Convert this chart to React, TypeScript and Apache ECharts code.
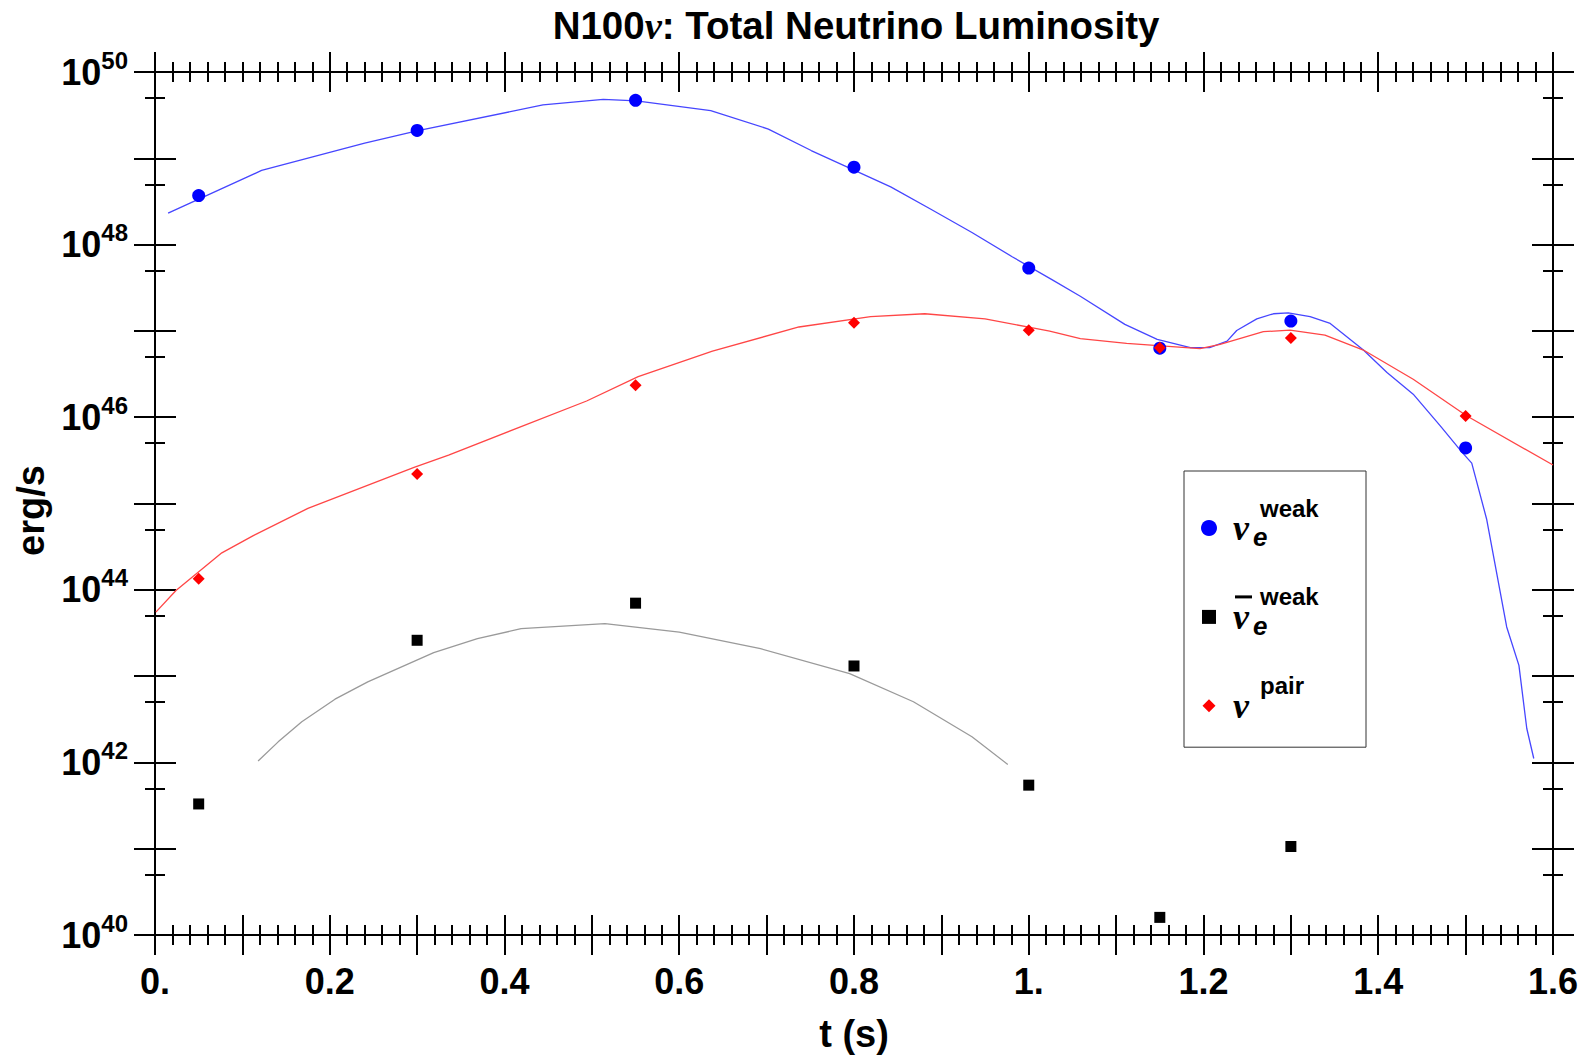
import React, { useEffect, useRef } from "react";
import * as echarts from "echarts";

const FONT = "'Liberation Sans', Arial, Helvetica, sans-serif";
const SERIF = "'Liberation Serif', 'Times New Roman', serif";

// sampled times (s)
const pointTimes = [0.05, 0.3, 0.55, 0.8, 1.0, 1.15, 1.3, 1.5];
const antiTimes = [0.05, 0.3, 0.55, 0.8, 1.0, 1.15, 1.3];
// luminosities (erg/s)
const nueWeakPoints = [3.7e48, 2.1e49, 4.7e49, 7.9e48, 5.35e47, 6.3e46, 1.3e47, 4.4e45];
const pairPoints = [1.34e44, 2.19e45, 2.34e46, 1.245e47, 1.02e47, 6.4e46, 8.3e46, 1.035e46];
const antiNueWeakPoints = [3.3e41, 2.6e43, 7.0e43, 1.31e43, 5.45e41, 1.6e40, 1.06e41];

// continuous curves
const blueCurveT = [0.015, 0.122, 0.24, 0.301, 0.444, 0.513, 0.551, 0.636, 0.702, 0.751, 0.795, 0.842, 0.888, 0.935, 0.981, 1.027, 1.059, 1.11, 1.147, 1.185, 1.207, 1.227, 1.238, 1.261, 1.28, 1.297, 1.322, 1.345, 1.383, 1.41, 1.44, 1.471, 1.496, 1.507, 1.524, 1.547, 1.561, 1.57, 1.578];
const blueCurveL = [2.32e48, 7.23e48, 1.5e49, 2.09e49, 4.15e49, 4.83e49, 4.62e49, 3.57e49, 2.18e49, 1.23e49, 7.71e48, 4.66e48, 2.57e48, 1.38e48, 7.24e47, 3.9e47, 2.52e47, 1.19e47, 7.98e46, 6.4e46, 6.4e46, 7.62e46, 1.01e47, 1.38e47, 1.58e47, 1.62e47, 1.46e47, 1.22e47, 6.0e46, 3.29e46, 1.85e46, 7.93e45, 3.91e45, 2.94e45, 6.62e44, 3.71e43, 1.33e43, 2.47e42, 1.11e42];
const redCurveT = [0.001, 0.024, 0.0765, 0.1125, 0.175, 0.2965, 0.336, 0.494, 0.553, 0.638, 0.737, 0.819, 0.881, 0.95, 1.003, 1.024, 1.059, 1.112, 1.196, 1.219, 1.2685, 1.299, 1.339, 1.383, 1.44, 1.501, 1.6];
const redCurveL = [5.52e43, 9.82e43, 2.68e44, 4.25e44, 8.79e44, 2.62e45, 3.64e45, 1.54e46, 2.95e46, 5.83e46, 1.11e47, 1.46e47, 1.58e47, 1.38e47, 1.09e47, 9.95e46, 8.13e46, 7.16e46, 6.22e46, 6.98e46, 9.79e46, 1.02e47, 8.93e46, 6.0e46, 2.75e46, 1.04e46, 2.79e45];
const grayCurveT = [0.118, 0.141, 0.168, 0.206, 0.2435, 0.319, 0.369, 0.419, 0.515, 0.6, 0.693, 0.795, 0.868, 0.935, 0.976];
const grayCurveL = [1.04e42, 1.73e42, 2.96e42, 5.4e42, 8.57e42, 1.87e43, 2.72e43, 3.54e43, 4.05e43, 3.24e43, 2.08e43, 1.07e43, 5.04e42, 1.98e42, 9.48e41];

// axis ticks
const yLabelExponents = [40, 42, 44, 46, 48, 50];
const yDecades = [40, 41, 42, 43, 44, 45, 46, 47, 48, 49];

const NAME_NUE = "nu_e weak";
const NAME_ANUE = "anti nu_e weak";
const NAME_PAIR = "nu pair";

const toPts = (ts: number[], ls: number[]) => ts.map((t, i) => [t, Math.log10(ls[i])]);

const legendRich: any = {
  s38: { width: 38, lineHeight: 30, fontSize: 10 },
  s13: { width: 13, lineHeight: 30, fontSize: 10 },
  s8: { width: 8, lineHeight: 30, fontSize: 10 },
  bar: { width: 17, fontSize: 3, lineHeight: 30, backgroundColor: "#000", color: "#000" },
  sup: { width: 70, fontSize: 24, fontWeight: "bold", fontFamily: FONT, lineHeight: 30, color: "#000" },
  s12: { width: 11, lineHeight: 10, fontSize: 8 },
  nu: { fontSize: 36, fontStyle: "italic", fontWeight: "bold", fontFamily: SERIF, lineHeight: 10, color: "#000" },
  s31: { width: 31, lineHeight: 8.8, fontSize: 8 },
  sub: { fontSize: 26, fontStyle: "italic", fontWeight: "bold", fontFamily: FONT, lineHeight: 8.8, color: "#000" },
  gap: { width: 1, lineHeight: 21.2, fontSize: 8 },
};

const legendText: Record<string, string> = {
  [NAME_NUE]: "{s38| }{sup|weak}\n{s12| }{nu|ν}\n{s31| }{sub|e}\n{gap| }",
  [NAME_ANUE]: "{s13| }{bar| }{s8| }{sup|weak}\n{s12| }{nu|ν}\n{s31| }{sub|e}\n{gap| }",
  [NAME_PAIR]: "{s38| }{sup|pair}\n{s12| }{nu|ν}\n{s31| }\n{gap| }",
};

const tickLine = { color: "#000", width: 2 };
const labelStyle = { fontSize: 36, fontWeight: "bold" as const, fontFamily: FONT, color: "#000" };
const nameStyle = { fontSize: 38, fontWeight: "bold" as const, fontFamily: FONT, color: "#000" };

function xFmt(v: number) {
  const k = Math.round(v * 10);
  if (k % 2 !== 0) return "";
  if (k % 10 === 0) return k / 10 + ".";
  return (k / 10).toFixed(1);
}

function yFmt(v: number) {
  const n = Math.round(v);
  if (Math.abs(v - n) > 1e-6 || yLabelExponents.indexOf(n) < 0) return "";
  return "{b|10}{s|" + n + "}";
}

export default function App() {
  const ref = useRef<HTMLDivElement>(null);
  useEffect(() => {
    if (!ref.current) return;
    const chart = echarts.init(ref.current, null, { renderer: "svg" });
    const minorExps = yDecades.map((d) => d + Math.log10(5));
    const noLine = { show: false, onZero: false };
    const baseX = { type: "value", min: 0, max: 1.6, axisLine: noLine, splitLine: { show: false } };
    const baseY = { type: "value", min: 40, max: 50, interval: 1, axisLine: noLine, splitLine: { show: false } };
    const option: any = {
      animation: false,
      backgroundColor: "#fff",
      title: {
        text: "{a|N100}{nu|ν}{a|: Total Neutrino Luminosity}",
        left: 851,
        top: 1,
        textAlign: "center",
        textStyle: {
          rich: {
            a: { fontSize: 38.5, fontWeight: "bold", fontFamily: FONT, color: "#000" },
            nu: { fontSize: 38.5, fontStyle: "italic", fontFamily: SERIF, color: "#000" },
          },
        },
      },
      grid: { left: 155, right: 34, top: 72, bottom: 121, show: true, borderColor: "#000", borderWidth: 2, backgroundColor: "transparent" },
      legend: {
        orient: "vertical",
        left: 1184,
        top: 471,
        padding: [25, 36, 13, 17],
        itemWidth: 16,
        itemHeight: 16,
        itemGap: 28.5,
        borderColor: "#333",
        borderWidth: 1,
        backgroundColor: "#fff",
        selectedMode: false,
        itemStyle: { opacity: 1 },
        data: [
          { name: NAME_NUE, icon: "circle" },
          { name: NAME_ANUE, icon: "path://M0 0M16 16M1 1L15 1L15 15L1 15Z" },
          { name: NAME_PAIR, icon: "path://M0 0M16 16M8 1.5L14.5 8L8 14.5L1.5 8Z" },
        ],
        formatter: (name: string) => legendText[name] || name,
        textStyle: { rich: legendRich, color: "#000" },
      },
      xAxis: [
        {
          ...baseX, position: "bottom", interval: 0.1, offset: 20,
          axisTick: { show: true, inside: true, length: 40, lineStyle: tickLine },
          axisLabel: { show: true, margin: 8, formatter: xFmt, ...labelStyle },
          name: "t (s)", nameLocation: "middle", nameGap: 60, nameTextStyle: nameStyle,
        },
        { ...baseX, position: "bottom", interval: 0.02, offset: 10, axisTick: { show: true, inside: true, length: 20, lineStyle: tickLine }, axisLabel: { show: false } },
        { ...baseX, position: "top", interval: 0.2, offset: 20, axisTick: { show: true, inside: true, length: 40, lineStyle: tickLine }, axisLabel: { show: false } },
        { ...baseX, position: "top", interval: 0.02, offset: 10, axisTick: { show: true, inside: true, length: 20, lineStyle: tickLine }, axisLabel: { show: false } },
      ],
      yAxis: [
        {
          ...baseY, position: "left", offset: 21,
          axisTick: { show: true, inside: true, length: 42, lineStyle: tickLine },
          axisLabel: {
            show: true, margin: 6, formatter: yFmt,
            rich: {
              b: { ...labelStyle },
              s: { fontSize: 24, fontWeight: "bold", fontFamily: FONT, color: "#000", padding: [0, 0, 24, 0] },
            },
          },
          name: "erg/s", nameLocation: "middle", nameGap: 81, nameRotate: 90,
          nameTextStyle: { ...nameStyle, padding: [0, 14, 0, 0] },
        },
        { ...baseY, position: "left", offset: 10, axisTick: { show: true, inside: true, length: 20, lineStyle: tickLine, customValues: minorExps }, axisLabel: { show: false } },
        { ...baseY, position: "right", offset: 21, axisTick: { show: true, inside: true, length: 42, lineStyle: tickLine }, axisLabel: { show: false } },
        { ...baseY, position: "right", offset: 10, axisTick: { show: true, inside: true, length: 20, lineStyle: tickLine, customValues: minorExps }, axisLabel: { show: false } },
      ],
      series: [
        { name: "nu_e weak curve", type: "line", data: toPts(blueCurveT, blueCurveL), showSymbol: false, symbol: "none", lineStyle: { color: "#4646ff", width: 1.3 }, z: 2 },
        { name: "nu pair curve", type: "line", data: toPts(redCurveT, redCurveL), showSymbol: false, symbol: "none", lineStyle: { color: "#ff4646", width: 1.3 }, z: 2 },
        { name: "anti nu_e weak curve", type: "line", data: toPts(grayCurveT, grayCurveL), showSymbol: false, symbol: "none", lineStyle: { color: "#9a9a9a", width: 1.3 }, z: 2 },
        { name: NAME_NUE, type: "scatter", data: toPts(pointTimes, nueWeakPoints), symbol: "circle", symbolSize: 13, itemStyle: { color: "#0000ff", opacity: 1 }, z: 4 },
        { name: NAME_ANUE, type: "scatter", data: toPts(antiTimes, antiNueWeakPoints), symbol: "rect", symbolSize: 11, itemStyle: { color: "#000000", opacity: 1 }, z: 4 },
        { name: NAME_PAIR, type: "scatter", data: toPts(pointTimes, pairPoints), symbol: "diamond", symbolSize: 12, itemStyle: { color: "#ff0000", opacity: 1 }, z: 4 },
      ],
    };
    chart.setOption(option);
    return () => chart.dispose();
  }, []);
  return <div ref={ref} style={{ position: "fixed", left: 0, top: 0, width: 1587, height: 1058, background: "#fff" }} />;
}
